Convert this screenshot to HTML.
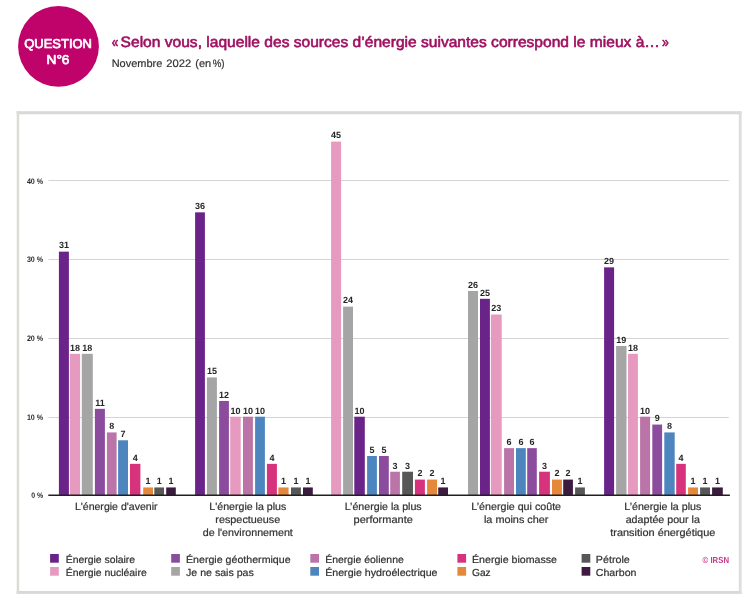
<!DOCTYPE html>
<html><head><meta charset="utf-8"><style>
html,body{margin:0;padding:0;background:#fff;width:749px;height:604px;overflow:hidden}
svg{display:block;will-change:transform}
text{font-family:"Liberation Sans",sans-serif;text-rendering:geometricPrecision;stroke-linejoin:round}
</style></head><body>
<svg width="749" height="604" viewBox="0 0 749 604">
<rect width="749" height="604" fill="#fff"/>
<circle cx="58.5" cy="46.4" r="40.4" fill="#c0036b"/>
<text x="24.30" y="47.60" font-size="12.8" fill="#fff" textLength="67.60" lengthAdjust="spacingAndGlyphs" stroke="#fff" stroke-width="0.7">QUESTION</text>
<text x="46.50" y="63.80" font-size="12.8" fill="#fff" textLength="23.00" lengthAdjust="spacingAndGlyphs" stroke="#fff" stroke-width="0.7">N°6</text>
<text x="111.80" y="46.60" font-size="15" fill="#9e1060" textLength="6.60" lengthAdjust="spacingAndGlyphs" stroke="#9e1060" stroke-width="0.6">«</text>
<text x="120.60" y="46.60" font-size="15" fill="#9e1060" textLength="539.30" lengthAdjust="spacingAndGlyphs" stroke="#9e1060" stroke-width="0.6">Selon vous, laquelle des sources d’énergie suivantes correspond le mieux à…</text>
<text x="661.90" y="46.60" font-size="15" fill="#9e1060" textLength="6.80" lengthAdjust="spacingAndGlyphs" stroke="#9e1060" stroke-width="0.6">»</text>
<text x="111.70" y="66.80" font-size="10.8" fill="#333" textLength="50.60" lengthAdjust="spacingAndGlyphs" stroke="#333" stroke-width="0.2">Novembre</text>
<text x="166.30" y="66.80" font-size="10.8" fill="#333" textLength="25.00" lengthAdjust="spacingAndGlyphs" stroke="#333" stroke-width="0.2">2022</text>
<text x="195.30" y="66.80" font-size="10.8" fill="#333" textLength="15.90" lengthAdjust="spacingAndGlyphs" stroke="#333" stroke-width="0.2">(en</text>
<text x="212.70" y="66.80" font-size="10.8" fill="#333" textLength="11.90" lengthAdjust="spacingAndGlyphs" stroke="#333" stroke-width="0.2">%)</text>
<rect x="16.6" y="111.2" width="725" height="3.1" fill="#d9d9d8"/>
<rect x="16.6" y="591.0" width="725" height="2.9" fill="#d7d7d6"/>
<rect x="16.7" y="111.2" width="2.5" height="482.7" fill="#dcdcd7"/>
<rect x="738.8" y="111.2" width="2.8" height="482.7" fill="#dddddA"/>
<line x1="48.4" y1="180.50" x2="728.8" y2="180.50" stroke="#d4d4d4" stroke-width="1"/>
<line x1="48.4" y1="259.50" x2="728.8" y2="259.50" stroke="#d4d4d4" stroke-width="1"/>
<line x1="48.4" y1="338.50" x2="728.8" y2="338.50" stroke="#d4d4d4" stroke-width="1"/>
<line x1="48.4" y1="417.50" x2="728.8" y2="417.50" stroke="#d4d4d4" stroke-width="1"/>
<text x="26.90" y="183.80" font-size="8.0" fill="#2a2a2a" font-weight="bold" textLength="16.30" lengthAdjust="spacingAndGlyphs">40 %</text>
<text x="26.90" y="261.80" font-size="8.0" fill="#2a2a2a" font-weight="bold" textLength="16.30" lengthAdjust="spacingAndGlyphs">30 %</text>
<text x="26.90" y="340.80" font-size="8.0" fill="#2a2a2a" font-weight="bold" textLength="16.30" lengthAdjust="spacingAndGlyphs">20 %</text>
<text x="26.90" y="419.80" font-size="8.0" fill="#2a2a2a" font-weight="bold" textLength="16.30" lengthAdjust="spacingAndGlyphs">10 %</text>
<text x="31.20" y="497.80" font-size="8.0" fill="#2a2a2a" font-weight="bold" textLength="12.00" lengthAdjust="spacingAndGlyphs">0 %</text>
<rect x="58.90" y="251.64" width="10.00" height="243.66" fill="#6a2388"/>
<text x="63.90" y="248.44" font-size="9.0" fill="#262626" font-weight="bold" text-anchor="middle">31</text>
<rect x="69.90" y="353.82" width="10.20" height="141.48" fill="#e79abf"/>
<text x="75.00" y="350.62" font-size="9.0" fill="#262626" font-weight="bold" text-anchor="middle">18</text>
<rect x="81.80" y="353.82" width="11.00" height="141.48" fill="#a5a5a5"/>
<text x="87.30" y="350.62" font-size="9.0" fill="#262626" font-weight="bold" text-anchor="middle">18</text>
<rect x="94.90" y="408.84" width="10.00" height="86.46" fill="#8c4c9e"/>
<text x="99.90" y="405.64" font-size="9.0" fill="#262626" font-weight="bold" text-anchor="middle">11</text>
<rect x="106.90" y="432.42" width="9.70" height="62.88" fill="#ba74a8"/>
<text x="111.75" y="429.22" font-size="9.0" fill="#262626" font-weight="bold" text-anchor="middle">8</text>
<rect x="118.10" y="440.28" width="9.90" height="55.02" fill="#4d86bf"/>
<text x="123.05" y="437.08" font-size="9.0" fill="#262626" font-weight="bold" text-anchor="middle">7</text>
<rect x="130.00" y="463.86" width="10.40" height="31.44" fill="#d7337d"/>
<text x="135.20" y="460.66" font-size="9.0" fill="#262626" font-weight="bold" text-anchor="middle">4</text>
<rect x="143.20" y="487.44" width="9.80" height="7.86" fill="#e6883a"/>
<text x="148.10" y="484.24" font-size="9.0" fill="#262626" font-weight="bold" text-anchor="middle">1</text>
<rect x="154.30" y="487.44" width="9.70" height="7.86" fill="#575757"/>
<text x="159.15" y="484.24" font-size="9.0" fill="#262626" font-weight="bold" text-anchor="middle">1</text>
<rect x="166.20" y="487.44" width="9.60" height="7.86" fill="#3d1a3f"/>
<text x="171.00" y="484.24" font-size="9.0" fill="#262626" font-weight="bold" text-anchor="middle">1</text>
<rect x="195.10" y="212.34" width="9.80" height="282.96" fill="#6a2388"/>
<text x="200.00" y="209.14" font-size="9.0" fill="#262626" font-weight="bold" text-anchor="middle">36</text>
<rect x="206.90" y="377.40" width="10.00" height="117.90" fill="#a5a5a5"/>
<text x="211.90" y="374.20" font-size="9.0" fill="#262626" font-weight="bold" text-anchor="middle">15</text>
<rect x="219.10" y="400.98" width="9.80" height="94.32" fill="#8c4c9e"/>
<text x="224.00" y="397.78" font-size="9.0" fill="#262626" font-weight="bold" text-anchor="middle">12</text>
<rect x="230.20" y="416.70" width="10.50" height="78.60" fill="#e79abf"/>
<text x="235.45" y="413.50" font-size="9.0" fill="#262626" font-weight="bold" text-anchor="middle">10</text>
<rect x="243.00" y="416.70" width="9.90" height="78.60" fill="#ba74a8"/>
<text x="247.95" y="413.50" font-size="9.0" fill="#262626" font-weight="bold" text-anchor="middle">10</text>
<rect x="255.10" y="416.70" width="9.80" height="78.60" fill="#4d86bf"/>
<text x="260.00" y="413.50" font-size="9.0" fill="#262626" font-weight="bold" text-anchor="middle">10</text>
<rect x="266.90" y="463.86" width="10.00" height="31.44" fill="#d7337d"/>
<text x="271.90" y="460.66" font-size="9.0" fill="#262626" font-weight="bold" text-anchor="middle">4</text>
<rect x="278.30" y="487.44" width="10.30" height="7.86" fill="#e6883a"/>
<text x="283.45" y="484.24" font-size="9.0" fill="#262626" font-weight="bold" text-anchor="middle">1</text>
<rect x="291.00" y="487.44" width="9.90" height="7.86" fill="#575757"/>
<text x="295.95" y="484.24" font-size="9.0" fill="#262626" font-weight="bold" text-anchor="middle">1</text>
<rect x="303.00" y="487.44" width="9.80" height="7.86" fill="#3d1a3f"/>
<text x="307.90" y="484.24" font-size="9.0" fill="#262626" font-weight="bold" text-anchor="middle">1</text>
<rect x="331.10" y="141.60" width="10.00" height="353.70" fill="#e79abf"/>
<text x="336.10" y="138.40" font-size="9.0" fill="#262626" font-weight="bold" text-anchor="middle">45</text>
<rect x="343.10" y="306.66" width="9.90" height="188.64" fill="#a5a5a5"/>
<text x="348.05" y="303.46" font-size="9.0" fill="#262626" font-weight="bold" text-anchor="middle">24</text>
<rect x="354.30" y="416.70" width="10.50" height="78.60" fill="#6a2388"/>
<text x="359.55" y="413.50" font-size="9.0" fill="#262626" font-weight="bold" text-anchor="middle">10</text>
<rect x="367.10" y="456.00" width="9.80" height="39.30" fill="#4d86bf"/>
<text x="372.00" y="452.80" font-size="9.0" fill="#262626" font-weight="bold" text-anchor="middle">5</text>
<rect x="379.00" y="456.00" width="9.80" height="39.30" fill="#8c4c9e"/>
<text x="383.90" y="452.80" font-size="9.0" fill="#262626" font-weight="bold" text-anchor="middle">5</text>
<rect x="390.20" y="471.72" width="9.70" height="23.58" fill="#ba74a8"/>
<text x="395.05" y="468.52" font-size="9.0" fill="#262626" font-weight="bold" text-anchor="middle">3</text>
<rect x="402.20" y="471.72" width="10.80" height="23.58" fill="#575757"/>
<text x="407.60" y="468.52" font-size="9.0" fill="#262626" font-weight="bold" text-anchor="middle">3</text>
<rect x="414.90" y="479.58" width="10.00" height="15.72" fill="#d7337d"/>
<text x="419.90" y="476.38" font-size="9.0" fill="#262626" font-weight="bold" text-anchor="middle">2</text>
<rect x="427.10" y="479.58" width="10.00" height="15.72" fill="#e6883a"/>
<text x="432.10" y="476.38" font-size="9.0" fill="#262626" font-weight="bold" text-anchor="middle">2</text>
<rect x="438.20" y="487.44" width="9.80" height="7.86" fill="#3d1a3f"/>
<text x="443.10" y="484.24" font-size="9.0" fill="#262626" font-weight="bold" text-anchor="middle">1</text>
<rect x="468.00" y="290.94" width="10.00" height="204.36" fill="#a5a5a5"/>
<text x="473.00" y="287.74" font-size="9.0" fill="#262626" font-weight="bold" text-anchor="middle">26</text>
<rect x="480.00" y="298.80" width="9.90" height="196.50" fill="#6a2388"/>
<text x="484.95" y="295.60" font-size="9.0" fill="#262626" font-weight="bold" text-anchor="middle">25</text>
<rect x="490.90" y="314.52" width="10.80" height="180.78" fill="#e79abf"/>
<text x="496.30" y="311.32" font-size="9.0" fill="#262626" font-weight="bold" text-anchor="middle">23</text>
<rect x="504.10" y="448.14" width="9.90" height="47.16" fill="#ba74a8"/>
<text x="509.05" y="444.94" font-size="9.0" fill="#262626" font-weight="bold" text-anchor="middle">6</text>
<rect x="516.00" y="448.14" width="9.80" height="47.16" fill="#4d86bf"/>
<text x="520.90" y="444.94" font-size="9.0" fill="#262626" font-weight="bold" text-anchor="middle">6</text>
<rect x="527.20" y="448.14" width="9.60" height="47.16" fill="#8c4c9e"/>
<text x="532.00" y="444.94" font-size="9.0" fill="#262626" font-weight="bold" text-anchor="middle">6</text>
<rect x="539.10" y="471.72" width="10.80" height="23.58" fill="#d7337d"/>
<text x="544.50" y="468.52" font-size="9.0" fill="#262626" font-weight="bold" text-anchor="middle">3</text>
<rect x="552.00" y="479.58" width="9.90" height="15.72" fill="#e6883a"/>
<text x="556.95" y="476.38" font-size="9.0" fill="#262626" font-weight="bold" text-anchor="middle">2</text>
<rect x="563.20" y="479.58" width="9.70" height="15.72" fill="#3d1a3f"/>
<text x="568.05" y="476.38" font-size="9.0" fill="#262626" font-weight="bold" text-anchor="middle">2</text>
<rect x="575.10" y="487.44" width="9.80" height="7.86" fill="#575757"/>
<text x="580.00" y="484.24" font-size="9.0" fill="#262626" font-weight="bold" text-anchor="middle">1</text>
<rect x="604.10" y="267.36" width="10.00" height="227.94" fill="#6a2388"/>
<text x="609.10" y="264.16" font-size="9.0" fill="#262626" font-weight="bold" text-anchor="middle">29</text>
<rect x="616.10" y="345.96" width="10.40" height="149.34" fill="#a5a5a5"/>
<text x="621.30" y="342.76" font-size="9.0" fill="#262626" font-weight="bold" text-anchor="middle">19</text>
<rect x="628.00" y="353.82" width="9.90" height="141.48" fill="#e79abf"/>
<text x="632.95" y="350.62" font-size="9.0" fill="#262626" font-weight="bold" text-anchor="middle">18</text>
<rect x="640.10" y="416.70" width="10.00" height="78.60" fill="#ba74a8"/>
<text x="645.10" y="413.50" font-size="9.0" fill="#262626" font-weight="bold" text-anchor="middle">10</text>
<rect x="652.30" y="424.56" width="9.80" height="70.74" fill="#8c4c9e"/>
<text x="657.20" y="421.36" font-size="9.0" fill="#262626" font-weight="bold" text-anchor="middle">9</text>
<rect x="664.30" y="432.42" width="10.40" height="62.88" fill="#4d86bf"/>
<text x="669.50" y="429.22" font-size="9.0" fill="#262626" font-weight="bold" text-anchor="middle">8</text>
<rect x="676.20" y="463.86" width="9.60" height="31.44" fill="#d7337d"/>
<text x="681.00" y="460.66" font-size="9.0" fill="#262626" font-weight="bold" text-anchor="middle">4</text>
<rect x="688.10" y="487.44" width="9.90" height="7.86" fill="#e6883a"/>
<text x="693.05" y="484.24" font-size="9.0" fill="#262626" font-weight="bold" text-anchor="middle">1</text>
<rect x="700.10" y="487.44" width="9.90" height="7.86" fill="#575757"/>
<text x="705.05" y="484.24" font-size="9.0" fill="#262626" font-weight="bold" text-anchor="middle">1</text>
<rect x="712.10" y="487.44" width="10.70" height="7.86" fill="#3d1a3f"/>
<text x="717.45" y="484.24" font-size="9.0" fill="#262626" font-weight="bold" text-anchor="middle">1</text>
<line x1="48.3" y1="495.30" x2="729.9" y2="495.30" stroke="#202020" stroke-width="1.4"/>
<text x="116.20" y="510.00" font-size="10.4" fill="#333" text-anchor="middle" textLength="82.60" lengthAdjust="spacingAndGlyphs" stroke="#333" stroke-width="0.22">L'énergie d'avenir</text>
<text x="247.80" y="510.00" font-size="10.4" fill="#333" text-anchor="middle" textLength="77.00" lengthAdjust="spacingAndGlyphs" stroke="#333" stroke-width="0.22">L'énergie la plus</text>
<text x="247.80" y="522.90" font-size="10.4" fill="#333" text-anchor="middle" textLength="64.90" lengthAdjust="spacingAndGlyphs" stroke="#333" stroke-width="0.22">respectueuse</text>
<text x="247.80" y="535.80" font-size="10.4" fill="#333" text-anchor="middle" textLength="90.10" lengthAdjust="spacingAndGlyphs" stroke="#333" stroke-width="0.22">de l'environnement</text>
<text x="383.20" y="510.00" font-size="10.4" fill="#333" text-anchor="middle" textLength="77.00" lengthAdjust="spacingAndGlyphs" stroke="#333" stroke-width="0.22">L’énergie la plus</text>
<text x="383.20" y="522.90" font-size="10.4" fill="#333" text-anchor="middle" textLength="59.20" lengthAdjust="spacingAndGlyphs" stroke="#333" stroke-width="0.22">performante</text>
<text x="516.20" y="510.00" font-size="10.4" fill="#333" text-anchor="middle" textLength="89.70" lengthAdjust="spacingAndGlyphs" stroke="#333" stroke-width="0.22">L’énergie qui coûte</text>
<text x="516.20" y="522.90" font-size="10.4" fill="#333" text-anchor="middle" textLength="64.50" lengthAdjust="spacingAndGlyphs" stroke="#333" stroke-width="0.22">la moins cher</text>
<text x="662.80" y="510.00" font-size="10.4" fill="#333" text-anchor="middle" textLength="77.00" lengthAdjust="spacingAndGlyphs" stroke="#333" stroke-width="0.22">L’énergie la plus</text>
<text x="662.80" y="522.90" font-size="10.4" fill="#333" text-anchor="middle" textLength="74.20" lengthAdjust="spacingAndGlyphs" stroke="#333" stroke-width="0.22">adaptée pour la</text>
<text x="662.80" y="535.80" font-size="10.4" fill="#333" text-anchor="middle" textLength="105.10" lengthAdjust="spacingAndGlyphs" stroke="#333" stroke-width="0.22">transition énergétique</text>
<rect x="50.1" y="554.0" width="8.7" height="8.7" fill="#6a2388"/>
<text x="65.70" y="562.90" font-size="10.2" fill="#333" textLength="69.40" lengthAdjust="spacingAndGlyphs" stroke="#333" stroke-width="0.22">Énergie solaire</text>
<rect x="50.1" y="567.0" width="8.7" height="8.7" fill="#e79abf"/>
<text x="65.70" y="575.90" font-size="10.2" fill="#333" textLength="81.00" lengthAdjust="spacingAndGlyphs" stroke="#333" stroke-width="0.22">Énergie nucléaire</text>
<rect x="171.2" y="554.0" width="8.7" height="8.7" fill="#8c4c9e"/>
<text x="186.00" y="562.90" font-size="10.2" fill="#333" textLength="104.60" lengthAdjust="spacingAndGlyphs" stroke="#333" stroke-width="0.22">Énergie géothermique</text>
<rect x="171.2" y="567.0" width="8.7" height="8.7" fill="#a5a5a5"/>
<text x="186.00" y="575.90" font-size="10.2" fill="#333" textLength="67.80" lengthAdjust="spacingAndGlyphs" stroke="#333" stroke-width="0.22">Je ne sais pas</text>
<rect x="310.3" y="554.0" width="8.7" height="8.7" fill="#ba74a8"/>
<text x="325.20" y="562.90" font-size="10.2" fill="#333" textLength="78.60" lengthAdjust="spacingAndGlyphs" stroke="#333" stroke-width="0.22">Énergie éolienne</text>
<rect x="310.3" y="567.0" width="8.7" height="8.7" fill="#4d86bf"/>
<text x="325.20" y="575.90" font-size="10.2" fill="#333" textLength="112.30" lengthAdjust="spacingAndGlyphs" stroke="#333" stroke-width="0.22">Énergie hydroélectrique</text>
<rect x="457.4" y="554.0" width="8.7" height="8.7" fill="#d7337d"/>
<text x="472.00" y="562.90" font-size="10.2" fill="#333" textLength="85.00" lengthAdjust="spacingAndGlyphs" stroke="#333" stroke-width="0.22">Énergie biomasse</text>
<rect x="457.4" y="567.0" width="8.7" height="8.7" fill="#e6883a"/>
<text x="472.00" y="575.90" font-size="10.2" fill="#333" textLength="18.70" lengthAdjust="spacingAndGlyphs" stroke="#333" stroke-width="0.22">Gaz</text>
<rect x="581.6" y="554.0" width="8.7" height="8.7" fill="#575757"/>
<text x="595.80" y="562.90" font-size="10.2" fill="#333" textLength="34.00" lengthAdjust="spacingAndGlyphs" stroke="#333" stroke-width="0.22">Pétrole</text>
<rect x="581.6" y="567.0" width="8.7" height="8.7" fill="#3d1a3f"/>
<text x="595.80" y="575.90" font-size="10.2" fill="#333" textLength="40.70" lengthAdjust="spacingAndGlyphs" stroke="#333" stroke-width="0.22">Charbon</text>
<text x="702.60" y="563.00" font-size="8.8" fill="#c63a8a" font-weight="bold" textLength="26.40" lengthAdjust="spacingAndGlyphs">© IRSN</text>
</svg>
</body></html>
